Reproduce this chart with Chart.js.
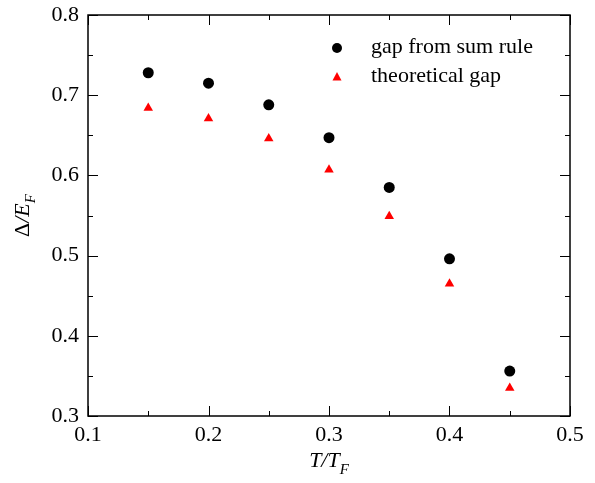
<!DOCTYPE html>
<html>
<head>
<meta charset="utf-8">
<style>
  html, body { margin: 0; padding: 0; background: #fff; }
  #wrap { width: 595px; height: 483px; }
</style>
<script src="https://cdn.jsdelivr.net/npm/chart.js@4/dist/chart.umd.min.js"></script>
</head>
<body>
<div id="wrap"><canvas id="gapChart" width="595" height="483"></canvas></div>
<script>
/* ===============================
   DATA
================================ */
const temps = [0.15, 0.2, 0.25, 0.3, 0.35, 0.4, 0.45];
const sumRuleGap = [0.728, 0.715, 0.688, 0.647, 0.585, 0.496, 0.356];
const theoryGap = [0.684, 0.671, 0.646, 0.607, 0.549, 0.465, 0.335];
const xTicks = [0.1, 0.2, 0.3, 0.4, 0.5];
const yTicks = [0.3, 0.4, 0.5, 0.6, 0.7, 0.8];

const FONT = "Liberation Serif";
const FS = 22;

function points(ys) {
    return temps.map((t, i) => ({ x: t, y: ys[i] }));
}

/* ===============================
   FRAME + INWARD TICKS + TITLES + LEGEND
================================ */
const framePlugin = {
    id: "frame",
    afterDraw(chart) {
        const { ctx, chartArea: a, scales } = chart;
        const xs = scales.x, ys = scales.y;
        ctx.save();
        ctx.strokeStyle = "#000";
        ctx.lineWidth = 1.5;
        ctx.strokeRect(a.left, a.top, a.right - a.left, a.bottom - a.top);

        ctx.lineWidth = 1;
        ctx.beginPath();
        for (let v = 0.1; v <= 0.5001; v += 0.05) {
            const major = Math.abs(Math.round(v * 10) - v * 10) < 1e-6;
            const len = major ? 10 : 5;
            const px = Math.round(xs.getPixelForValue(v)) + 0.5;
            ctx.moveTo(px, a.bottom); ctx.lineTo(px, a.bottom - len);
            ctx.moveTo(px, a.top); ctx.lineTo(px, a.top + len);
        }
        for (let v = 0.3; v <= 0.8001; v += 0.05) {
            const major = Math.abs(Math.round(v * 10) - v * 10) < 1e-6;
            const len = major ? 10 : 5;
            const py = Math.round(ys.getPixelForValue(v)) + 0.5;
            ctx.moveTo(a.left, py); ctx.lineTo(a.left + len, py);
            ctx.moveTo(a.right, py); ctx.lineTo(a.right - len, py);
        }
        ctx.stroke();

        // axis titles
        ctx.fillStyle = "#000";
        ctx.textBaseline = "alphabetic";
        ctx.textAlign = "left";
        const cx = (a.left + a.right) / 2;
        ctx.font = "italic " + FS + "px '" + FONT + "'";
        const w1 = ctx.measureText("T/T").width;
        ctx.font = "italic 15px '" + FONT + "'";
        const w2 = ctx.measureText("F").width;
        let x0 = cx - (w1 + w2) / 2;
        ctx.font = "italic " + FS + "px '" + FONT + "'";
        ctx.fillText("T/T", x0, 467);
        ctx.font = "italic 15px '" + FONT + "'";
        ctx.fillText("F", x0 + w1, 474);

        ctx.save();
        ctx.translate(29, (a.top + a.bottom) / 2);
        ctx.rotate(-Math.PI / 2);
        ctx.font = FS + "px '" + FONT + "'";
        const d = ctx.measureText("\u0394").width;
        ctx.font = "italic " + FS + "px '" + FONT + "'";
        const e = ctx.measureText("/E").width;
        ctx.font = "italic 15px '" + FONT + "'";
        const f = ctx.measureText("F").width;
        let s = -(d + e + f) / 2;
        ctx.font = FS + "px '" + FONT + "'";
        ctx.fillText("\u0394", s, 0);
        ctx.font = "italic " + FS + "px '" + FONT + "'";
        ctx.fillText("/E", s + d, 0);
        ctx.font = "italic 15px '" + FONT + "'";
        ctx.fillText("F", s + d + e, 6);
        ctx.restore();

        // legend
        ctx.font = FS + "px '" + FONT + "'";
        ctx.textBaseline = "middle";
        chart.data.datasets.forEach((ds, i) => {
            const ly = 48 + i * 29;
            ctx.fillStyle = ds.backgroundColor;
            ctx.beginPath();
            if (ds.pointStyle === "circle") {
                ctx.arc(337, ly, 5, 0, Math.PI * 2);
            } else {
                ctx.moveTo(337, ly - 5);
                ctx.lineTo(341.5, ly + 3.5);
                ctx.lineTo(332.5, ly + 3.5);
                ctx.closePath();
            }
            ctx.fill();
            ctx.fillStyle = "#000";
            ctx.fillText(ds.label, 371, ly - 1);
        });
        ctx.restore();
    }
};

/* ===============================
   CHART
================================ */
document.addEventListener("DOMContentLoaded", () => {
    const ctx = document.getElementById("gapChart").getContext("2d");
    new Chart(ctx, {
        type: "scatter",
        data: {
            datasets: [{
                label: "gap from sum rule",
                data: points(sumRuleGap),
                pointStyle: "circle",
                pointRadius: 5.5,
                backgroundColor: "#000",
                borderColor: "#000",
                borderWidth: 0
            }, {
                label: "theoretical gap",
                data: points(theoryGap),
                pointStyle: "triangle",
                pointRadius: 5.5,
                backgroundColor: "#ff0000",
                borderColor: "#ff0000",
                borderWidth: 0
            }]
        },
        options: {
            responsive: false,
            animation: false,
            events: [],
            layout: { padding: { top: 15, right: 25, left: 0, bottom: 0 } },
            plugins: { legend: { display: false }, tooltip: { enabled: false } },
            scales: {
                x: {
                    type: "linear",
                    min: 0.1, max: 0.5,
                    afterBuildTicks: s => { s.ticks = xTicks.map(v => ({ value: v })); },
                    afterFit: s => { s.height = 67; s.paddingLeft = 0; s.paddingRight = 0; },
                    grid: { display: false, drawTicks: false },
                    border: { display: false },
                    ticks: {
                        padding: 6,
                        autoSkip: false,
                        color: "#000",
                        font: { family: FONT, size: FS },
                        maxRotation: 0,
                        callback: v => v.toFixed(1)
                    }
                },
                y: {
                    type: "linear",
                    min: 0.3, max: 0.8,
                    afterBuildTicks: s => { s.ticks = yTicks.map(v => ({ value: v })); },
                    afterFit: s => { s.width = 88; s.paddingTop = 0; s.paddingBottom = 0; },
                    grid: { display: false, drawTicks: false },
                    border: { display: false },
                    ticks: {
                        padding: 9,
                        autoSkip: false,
                        color: "#000",
                        font: { family: FONT, size: FS },
                        callback: v => v.toFixed(1)
                    }
                }
            }
        },
        plugins: [framePlugin]
    });
});
</script>
</body>
</html>
